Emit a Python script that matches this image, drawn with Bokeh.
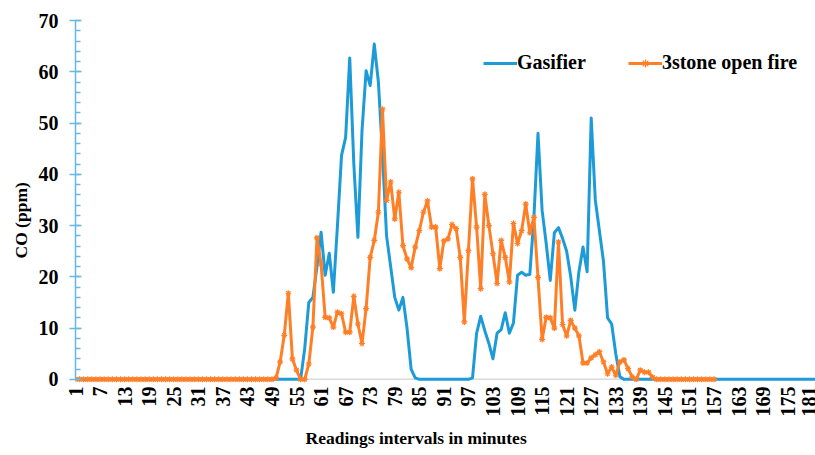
import math
from bokeh.plotting import figure
from bokeh.models import (Range1d, FixedTicker, SingleIntervalTicker, Span,
                          Legend, LegendItem, Title)
from bokeh.embed import file_html
from bokeh.resources import INLINE

# ---------------- data ----------------
# CO (ppm) per reading interval (minute 1, 2, 3, ...)
gasifier = ([0.0] * 56 +
            [6, 15, 16, 22, 28.7, 20.3, 24.6, 17, 30, 43.7, 47.2, 62.7, 42, 27.7,
             48.5, 60.2, 57.3, 65.4, 58, 44, 28, 22, 16, 13.5, 16, 10, 2, 0.3] +
            [0.0] * 13 +
            [0.3, 9, 12.3, 9.5, 7, 4, 9, 9.7, 13, 9, 11, 20.3, 20.9, 20.3, 20.5,
             31.6, 48, 33, 26.5, 19.3, 28.6, 29.6, 27.5, 25, 20, 13.5, 21, 25.8,
             21, 51, 35, 29, 23, 12, 10.8, 5, 0.5] +
            [0.0] * 49)

three_stone = ([0.0] * 49 +
               [0.3, 3.4, 8.6, 16.8, 4, 1.8, 0, 0, 3, 10.2, 27.6, 22.5, 12.1, 12,
                10.2, 13.1, 12.8, 9.2, 9.2, 16.2, 10.8, 7, 13.8, 23.8, 27.1, 32.6,
                52.7, 34.9, 38.5, 31.3, 36.5, 26.1, 23.5, 21.8, 25.8, 29, 32.6,
                34.8, 29.7, 29.7, 21.6, 27, 27.4, 30.2, 29.4, 23.8, 11.2, 25.1,
                39.1, 29.7, 17.7, 36.1, 30, 24.5, 18.7, 27.1, 23.8, 19, 30.4, 26.5,
                29, 34.2, 28.6, 31.6, 19.9, 7.8, 12.1, 12, 10, 26.8, 10.7, 8.5,
                11.5, 10, 8.5, 3.2, 3.2, 4.2, 4.8, 5.4, 3.4, 1.1, 2.4, 0.8, 3.4,
                3.8, 2.1, 0.5, 0, 1.8, 1.4, 1.4, 0.4] +
               [0.0] * 15)

minutes_g = list(range(1, len(gasifier) + 1))
minutes_s = list(range(1, len(three_stone) + 1))

x_tick_values = list(range(1, 182, 6))
series_names = ["Gasifier", "3stone open fire"]
x_title = "Readings intervals in minutes"
y_title = "CO (ppm)"

# ---------------- styling ----------------
BLUE = "#1d9bd8"
ORANGE = "#ff7f27"
AXIS_BLUE = "#66b8e6"
FONT = "Liberation Serif"

p = figure(width=815, height=455, output_backend="svg", toolbar_location=None,
           x_range=Range1d(1, 181.8), y_range=Range1d(-1, 70),
           min_border_left=75, min_border_right=0, min_border_top=20,
           min_border_bottom=71)
p.outline_line_color = None
p.xgrid.visible = False
p.ygrid.visible = False
p.background_fill_color = "white"
p.border_fill_color = "white"

zero_line = Span(location=0, dimension="width", line_color="#d9d9d9",
                 line_width=1.5, level="underlay")
p.add_layout(zero_line)

blue = p.line(minutes_g, gasifier, line_color=BLUE, line_width=3,
              line_join="round")
oline = p.line(minutes_s, three_stone, line_color=ORANGE, line_width=3,
               line_join="round")
omark = p.scatter(minutes_s, three_stone, marker="asterisk", size=6,
                  line_color=ORANGE, line_width=1.2)

# y axis
ya = p.yaxis[0]
ya.ticker = SingleIntervalTicker(interval=10, num_minor_ticks=5)
ya.bounds = (0, 70)
ya.axis_line_color = AXIS_BLUE
ya.axis_line_width = 1.5
ya.major_tick_line_color = AXIS_BLUE
ya.major_tick_line_width = 1.5
ya.minor_tick_line_color = AXIS_BLUE
ya.minor_tick_line_width = 1.5
ya.major_tick_in = 6
ya.major_tick_out = 6
ya.minor_tick_in = 5
ya.minor_tick_out = 0
ya.major_label_text_font = FONT
ya.major_label_text_font_style = "bold"
ya.major_label_text_font_size = "20px"
ya.major_label_text_color = "black"
ya.major_label_standoff = 11

# x axis
xa = p.xaxis[0]
xa.ticker = FixedTicker(ticks=x_tick_values, minor_ticks=[])
xa.axis_line_color = None
xa.major_tick_line_color = None
xa.minor_tick_line_color = None
xa.major_tick_out = 0
xa.major_tick_in = 0
xa.major_label_orientation = math.pi / 2
xa.major_label_standoff = 2
xa.major_label_text_font = FONT
xa.major_label_text_font_style = "bold"
xa.major_label_text_font_size = "20px"
xa.major_label_text_color = "black"

# axis titles (offset as in the reference)
p.add_layout(Title(text=x_title, align="left", offset=230, standoff=12,
                   text_font=FONT, text_font_style="bold",
                   text_font_size="17.5px", text_color="black"), "below")
p.add_layout(Title(text=y_title, align="left", offset=126, standoff=10,
                   text_font=FONT, text_font_style="bold",
                   text_font_size="17.5px", text_color="black"), "left")

legend = Legend(items=[LegendItem(label=series_names[0], renderers=[blue]),
                       LegendItem(label=series_names[1], renderers=[oline, omark])],
                location=(408, 310), orientation="horizontal",
                glyph_width=34, glyph_height=20, label_height=20,
                label_standoff=0, spacing=42, padding=0, margin=0,
                border_line_color=None, background_fill_alpha=0,
                label_text_font=FONT, label_text_font_style="bold",
                label_text_font_size="20px", label_text_color="black")
p.add_layout(legend)

open("out.html", "w").write(file_html(p, INLINE))
